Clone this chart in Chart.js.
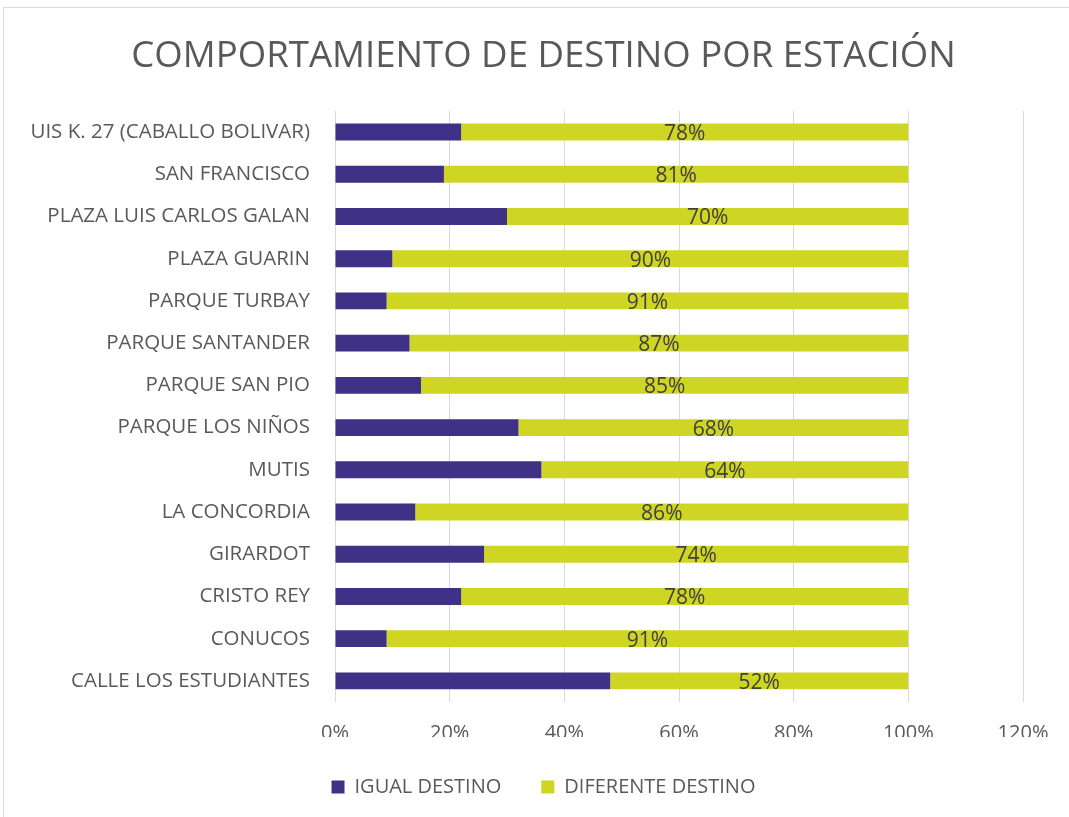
<!DOCTYPE html>
<html>
<head>
<meta charset="utf-8">
<script src="https://cdn.jsdelivr.net/npm/chart.js@4"></script>
<style>
  html, body { margin: 0; padding: 0; background: #fff; overflow: hidden; }
  #borde { position: absolute; left: 3px; top: 7px; width: 1200px; height: 1000px; border: 1px solid #d9d9d9; }
  #wrap { position: absolute; left: 0; top: 0; width: 1090px; height: 807px; }
</style>
</head>
<body>
<div id="borde"></div>
<div id="wrap"><canvas id="chart"></canvas></div>
<script>
// Datos del grafico
var estaciones = [
  'UIS K. 27 (CABALLO BOLIVAR)', 'SAN FRANCISCO', 'PLAZA LUIS CARLOS GALAN', 'PLAZA GUARIN',
  'PARQUE TURBAY', 'PARQUE SANTANDER', 'PARQUE SAN PIO', 'PARQUE LOS NIÑOS', 'MUTIS',
  'LA CONCORDIA', 'GIRARDOT', 'CRISTO REY', 'CONUCOS', 'CALLE LOS ESTUDIANTES'
];
var igualDestino = [22, 19, 30, 10, 9, 13, 15, 32, 36, 14, 26, 22, 9, 48];
var diferenteDestino = [78, 81, 70, 90, 91, 87, 85, 68, 64, 86, 74, 78, 91, 52];
var ticksX = [0, 20, 40, 60, 80, 100, 120];

var FONT = "'Open Sans', sans-serif";
var GRIS = '#595959';

// etiquetas de porcentaje sobre la serie "diferente destino"
var etiquetasPlugin = {
  id: 'etiquetas',
  afterDatasetsDraw: function(chart) {
    var ctx = chart.ctx;
    var meta = chart.getDatasetMeta(1);
    ctx.save();
    ctx.font = '21px ' + FONT;
    ctx.fillStyle = '#404040';
    ctx.textAlign = 'center';
    ctx.textBaseline = 'middle';
    meta.data.forEach(function(bar, i) {
      var cx = (bar.x + bar.base) / 2;
      ctx.fillText(diferenteDestino[i] + '%', cx, bar.y + 2);
    });
    ctx.restore();
  }
};

new Chart(document.getElementById('chart'), {
  type: 'bar',
  data: {
    labels: estaciones,
    datasets: [
      { label: 'IGUAL DESTINO', data: igualDestino, backgroundColor: '#3f3185' },
      { label: 'DIFERENTE DESTINO', data: diferenteDestino, backgroundColor: '#cfd523' }
    ]
  },
  options: {
    indexAxis: 'y',
    responsive: true,
    maintainAspectRatio: false,
    animation: false,
    layout: { padding: { left: 0, right: 3, top: 0, bottom: 0 } },
    datasets: { bar: { barPercentage: 0.4, categoryPercentage: 1 } },
    plugins: {
      title: {
        display: true,
        text: 'COMPORTAMIENTO DE DESTINO POR ESTACIÓN',
        color: GRIS,
        font: { family: FONT, size: 36.6, weight: 'normal' },
        padding: { top: 35, bottom: 32 }
      },
      legend: {
        position: 'bottom',
        labels: {
          color: GRIS,
          font: { family: FONT, size: 20 },
          boxWidth: 13,
          boxHeight: 13,
          padding: 40
        }
      },
      tooltip: { enabled: false }
    },
    scales: {
      x: {
        stacked: true,
        min: 0,
        max: 120,
        afterBuildTicks: function(scale) {
          scale.ticks = ticksX.map(function(v) { return { value: v }; });
        },
        afterFit: function(scale) { scale.height = 35; },
        border: { display: false },
        grid: { color: '#d9d9d9', lineWidth: 1, drawTicks: false },
        ticks: {
          color: GRIS,
          padding: 19,
          font: { family: FONT, size: 20 },
          callback: function(v) { return v + '%'; }
        }
      },
      y: {
        stacked: true,
        afterFit: function(scale) { scale.width = 335; },
        border: { display: false },
        grid: { display: false },
        ticks: {
          color: GRIS,
          padding: 17,
          font: { family: FONT, size: 20.5 }
        }
      },
      // espacio vacio a la derecha del area de trazado
      derecha: {
        type: 'linear',
        position: 'right',
        afterFit: function(scale) { scale.width = 64; },
        border: { display: false },
        grid: { display: false },
        ticks: { display: false }
      }
    }
  },
  plugins: [etiquetasPlugin]
});
</script>
</body>
</html>
